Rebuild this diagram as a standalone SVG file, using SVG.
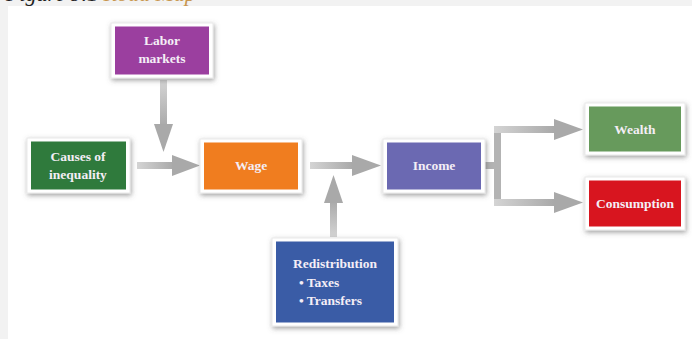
<svg xmlns="http://www.w3.org/2000/svg" width="692" height="339" viewBox="0 0 692 339">
<defs>
<filter id="sh" x="-20%" y="-30%" width="140%" height="160%">
<feDropShadow dx="1" dy="2" stdDeviation="2.5" flood-color="#555" flood-opacity="0.55"/>
</filter>
<linearGradient id="gh" x1="0" y1="0" x2="1" y2="0">
<stop offset="0" stop-color="#d4d4d4"/><stop offset="1" stop-color="#a8a8a8"/>
</linearGradient>
<linearGradient id="gv" x1="0" y1="0" x2="0" y2="1">
<stop offset="0" stop-color="#d4d4d4"/><stop offset="1" stop-color="#a8a8a8"/>
</linearGradient>
<linearGradient id="gu" x1="0" y1="1" x2="0" y2="0">
<stop offset="0" stop-color="#d4d4d4"/><stop offset="1" stop-color="#a8a8a8"/>
</linearGradient>
</defs>
<style>
.frame{fill:#ffffff;stroke:#e9e9e9;stroke-width:1;filter:url(#sh)}
.lbl{font-family:"Liberation Serif","DejaVu Serif",serif;font-weight:bold;font-size:13.5px;fill:#f4eef6;text-anchor:middle}
.lbs{font-family:"Liberation Serif","DejaVu Serif",serif;font-weight:bold;font-size:13.5px;fill:#f4eef6;text-anchor:start}
.bar{fill:#b3b3b3}
.head{fill:#a9a9a9}
.cap{font-family:"Liberation Serif","DejaVu Serif",serif;font-style:italic;font-size:22px}
</style>
<rect x="0" y="0" width="692" height="339" fill="#f2f2f2"/>
<rect x="8" y="6" width="684" height="333" fill="#ffffff"/>
<text class="cap" x="6" y="0.5"><tspan fill="#222">Figure 9.1</tspan><tspan fill="#c8964e"> Road Map</tspan></text>

<g id="connectors">
<rect x="160" y="80" width="7" height="48" fill="url(#gv)"/>
<polygon class="head" points="154,124 173,124 163.5,152"/>
<rect x="137" y="162" width="38" height="7" fill="url(#gh)"/>
<polygon class="head" points="172,155 200,165.5 172,176"/>
<rect x="310" y="162" width="44" height="7" fill="url(#gh)"/>
<polygon class="head" points="352,155 381,165.5 352,176"/>
<rect x="330" y="200" width="7" height="37" fill="url(#gu)"/>
<polygon class="head" points="324,203 343,203 333.5,175"/>
<rect x="485" y="162" width="14" height="7" class="bar"/>
<rect x="494" y="126" width="7" height="80" class="bar"/>
<rect x="494" y="126" width="62" height="7" fill="url(#gh)"/>
<polygon class="head" points="554,119 583,129.5 554,140"/>
<rect x="494" y="199" width="62" height="7" fill="url(#gh)"/>
<polygon class="head" points="554,192 583,202.5 554,213"/>
</g>

<g id="labor">
<rect class="frame" x="111" y="23" width="102" height="55"/>
<rect x="115" y="26.5" width="94" height="48" fill="#9b3f9f"/>
<text class="lbl" x="162" y="45">Labor</text>
<text class="lbl" x="162" y="63">markets</text>
</g>
<g id="causes">
<rect class="frame" x="27" y="138" width="103" height="55"/>
<rect x="31" y="141.5" width="95" height="48" fill="#2f7a3c"/>
<text class="lbl" x="78" y="161">Causes of</text>
<text class="lbl" x="78" y="179">inequality</text>
</g>
<g id="wage">
<rect class="frame" x="200" y="139" width="102" height="54"/>
<rect x="204" y="142.5" width="94" height="47" fill="#f07d1f"/>
<text class="lbl" x="251" y="170">Wage</text>
</g>
<g id="income">
<rect class="frame" x="383" y="139" width="102" height="54"/>
<rect x="387" y="142.5" width="94" height="47" fill="#6b69b2"/>
<text class="lbl" x="434" y="170">Income</text>
</g>
<g id="redistribution">
<rect class="frame" x="272" y="238" width="126" height="88"/>
<rect x="276" y="241.5" width="118" height="81" fill="#3a5ca6"/>
<text class="lbl" x="335" y="268">Redistribution</text>
<text class="lbs" x="299" y="287">• Taxes</text>
<text class="lbs" x="299" y="305">• Transfers</text>
</g>
<g id="wealth">
<rect class="frame" x="585" y="103" width="100" height="52"/>
<rect x="589" y="106.5" width="92" height="45" fill="#679a5c"/>
<text class="lbl" x="635" y="134">Wealth</text>
</g>
<g id="consumption">
<rect class="frame" x="585" y="177" width="100" height="53"/>
<rect x="589" y="180.5" width="92" height="46" fill="#d8151f"/>
<text class="lbl" x="635" y="208">Consumption</text>
</g>
</svg>
